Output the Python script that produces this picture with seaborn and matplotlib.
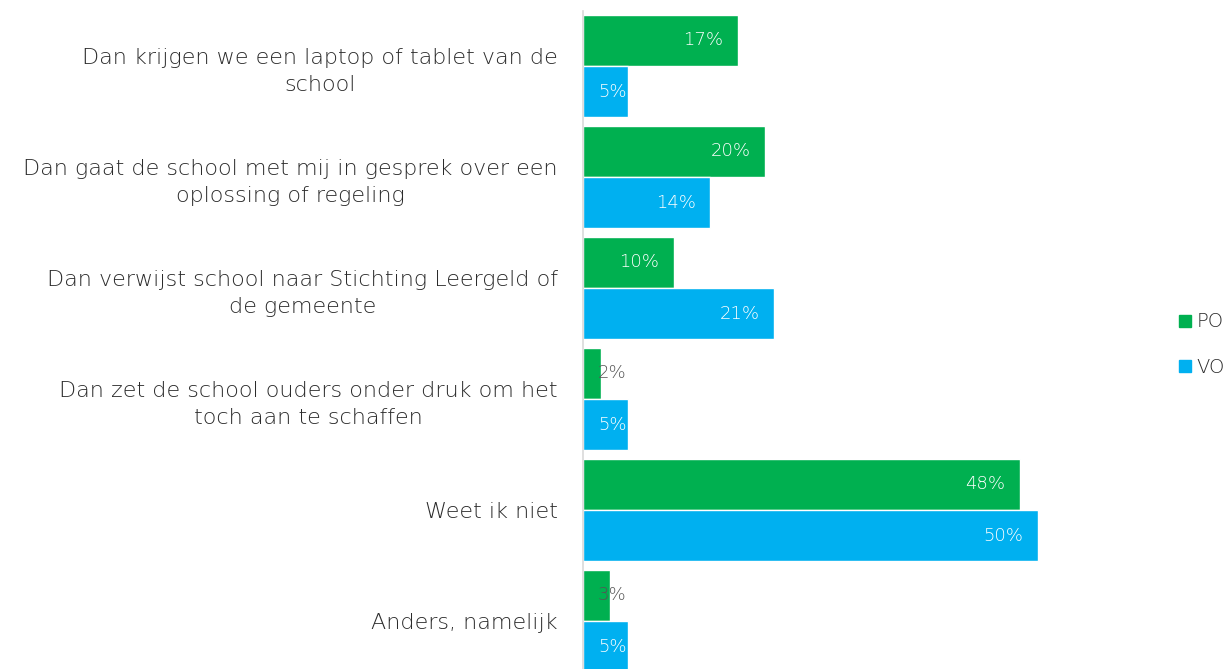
import pandas as pd
import numpy as np
import matplotlib.pyplot as plt
import seaborn as sns
from matplotlib.lines import Line2D

# ============================================================
# Data
# ============================================================

categories = [
    "Dan krijgen we een laptop of tablet van de\nschool",
    "Dan gaat de school met mij in gesprek over een\noplossing of regeling",
    "Dan verwijst school naar Stichting Leergeld of\nde gemeente",
    "Dan zet de school ouders onder druk om het\ntoch aan te schaffen",
    "Weet ik niet",
    "Anders, namelijk",
]
groups = ["PO", "VO"]
po_values = [17, 20, 10, 2, 48, 3]
vo_values = [5, 14, 21, 5, 50, 5]

colors = {"PO": "#00B050", "VO": "#00B0F0"}

df = pd.DataFrame({
    "categorie": categories * 2,
    "groep": ["PO"] * len(categories) + ["VO"] * len(categories),
    "pct": po_values + vo_values,
})

# ============================================================
# Plot
# ============================================================

sns.set_style("white")
plt.rcParams["font.family"] = ["DejaVu Sans"]

fig = plt.figure(figsize=(12.32, 6.69), dpi=100)
ax = fig.add_axes([0.4732, -0.0112, 0.458, 0.9955])

sns.barplot(
    data=df,
    y="categorie",
    x="pct",
    hue="groep",
    orient="h",
    palette=colors,
    width=0.92,
    saturation=1,
    legend=False,
    ax=ax,
)

ax.set_xlim(0, 62)
ax.set_xlabel("")
ax.set_ylabel("")
ax.set_xticks([])

for s in ["top", "right", "bottom"]:
    ax.spines[s].set_visible(False)
ax.spines["left"].set_color("#d9d9d9")
ax.spines["left"].set_linewidth(1.2)

ax.tick_params(axis="y", length=0, pad=18)
for lbl in ax.get_yticklabels():
    lbl.set_multialignment("center")
    lbl.set_fontsize(16)
    lbl.set_color("#2b2b2b")
    lbl.set_fontweight("light")
    lbl.set_linespacing(1.45)

# value labels
for container, vals in zip(ax.containers, [po_values, vo_values]):
    for bar, v in zip(container, vals):
        y = bar.get_y() + bar.get_height() / 2
        xpos = max(v - 1.6, 4.8)
        col = "white" if v >= 5 else "#555555"
        ax.text(xpos, y, f"{v}%", ha="right", va="center",
                fontsize=13, color=col, fontweight="light")

handles = [
    Line2D([0], [0], marker="s", linestyle="", markersize=8,
           markerfacecolor=colors[g], markeredgecolor=colors[g])
    for g in groups
]
fig.legend(
    handles, groups,
    loc="center left",
    bbox_to_anchor=(0.954, 0.485),
    frameon=False,
    labelspacing=1.35,
    handletextpad=0.1,
    handlelength=1.0,
    borderaxespad=0.0,
    borderpad=0.0,
    labelcolor="#2b2b2b",
    prop={"weight": "light", "size": 14},
)

plt.savefig("out.png", dpi=100)
